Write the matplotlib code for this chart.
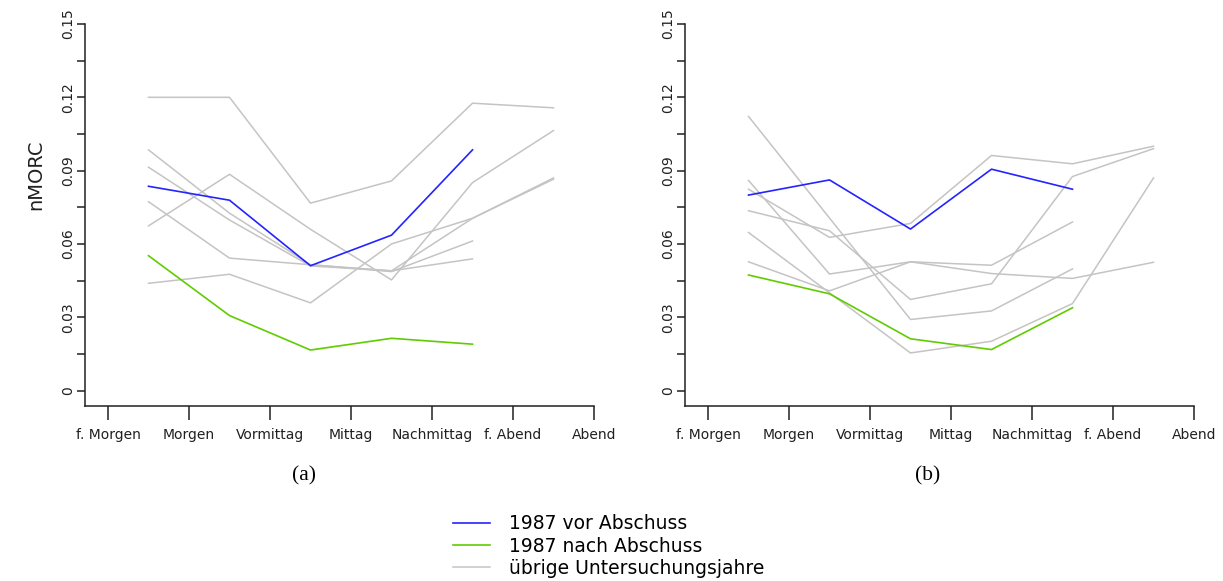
import matplotlib
matplotlib.use("Agg")
import matplotlib.pyplot as plt
from matplotlib.ticker import FixedLocator, FuncFormatter

plt.rcParams['font.family'] = ['DejaVu Sans']

# ---- categories / tick labels ----
tick_labels = ["f. Morgen", "Morgen", "Vormittag", "Mittag", "Nachmittag", "f. Abend", "Abend"]

# ---- panel (a) ----
a_blue = [0.0836, 0.0779, 0.0511, 0.0636, 0.0985]
a_green = [0.0552, 0.0307, 0.0166, 0.0214, 0.0190]
a_gray_1 = [0.1200, 0.1200, 0.0767, 0.0858, 0.1176, 0.1157]
a_gray_2 = [0.0674, 0.0885, 0.0660, 0.0453, 0.0851, 0.1064]
a_gray_3 = [0.0773, 0.0542, 0.0515, 0.0490, 0.0539]
a_gray_4 = [0.0439, 0.0476, 0.0359, 0.0600, 0.0705, 0.0870]
a_gray_5 = [0.0985, 0.0726, 0.0515, 0.0487, 0.0612]
a_gray_6 = [0.0914, 0.0698, 0.0510, 0.0490, 0.0705, 0.0865]

# ---- panel (b) ----
b_blue = [0.0800, 0.0862, 0.0661, 0.0906, 0.0824]
b_green = [0.0473, 0.0396, 0.0212, 0.0168, 0.0339]
b_gray_1 = [0.1122, 0.0706, 0.0291, 0.0326, 0.0498]
b_gray_2 = [0.0824, 0.0627, 0.0684, 0.0962, 0.0928, 0.1000]
b_gray_3 = [0.0860, 0.0477, 0.0527, 0.0513, 0.0690]
b_gray_4 = [0.0527, 0.0408, 0.0527, 0.0479, 0.0459, 0.0525]
b_gray_5 = [0.0736, 0.0654, 0.0373, 0.0437, 0.0876, 0.0990]
b_gray_6 = [0.0647, 0.0400, 0.0154, 0.0202, 0.0356, 0.0870]

legend_labels = ["1987 vor Abschuss", "1987 nach Abschuss", "übrige Untersuchungsjahre"]
panel_labels = ["(a)", "(b)"]
ylabel = "nMORC"

C_BLUE = "#2424ff"
C_GREEN = "#60cc00"
C_GRAY = "#c4c4c4"

W, H = 1223, 581
fig = plt.figure(figsize=(W / 100, H / 100), dpi=100)


def make_axes(left_px):
    ax = fig.add_axes([left_px / W, 1 - 406 / H, 509 / W, (406 - 24) / H])
    return ax


def style(ax, show_ylabel):
    ax.set_xlim(-0.284, 6.0)
    ax.set_ylim(-0.0063, 0.15)
    ax.spines['top'].set_visible(False)
    ax.spines['right'].set_visible(False)
    for s in ('left', 'bottom'):
        ax.spines[s].set_linewidth(1.1)
        ax.spines[s].set_color('#202020')
    ax.set_xticks(range(len(tick_labels)))
    ax.set_xticklabels(tick_labels, fontsize=10, color='#202020')
    yt = [i * 0.015 for i in range(11)]
    ax.yaxis.set_major_locator(FixedLocator(yt))

    def fmt(v, pos):
        k = round(v / 0.015)
        if k % 2:
            return ""
        s = f"{v:.2f}".rstrip('0').rstrip('.')
        return s if s else "0"
    ax.yaxis.set_major_formatter(FuncFormatter(fmt))
    ax.tick_params(axis='x', length=10, width=1.1, pad=6, color='#202020')
    ax.tick_params(axis='y', length=6, width=1.1, pad=1, color='#202020',
                   labelsize=10, labelcolor='#202020')
    for lab in ax.get_yticklabels():
        lab.set_rotation(90)
        lab.set_va('center')
    if show_ylabel:
        ax.set_ylabel(ylabel, fontsize=14, color='#202020')
        ax.yaxis.set_label_coords(-0.079, 0.605)


def draw(ax, grays, blue, green):
    for g in grays:
        x = [i + 0.5 for i in range(len(g))]
        h, = ax.plot(x, g, color=C_GRAY, lw=1.1)
    gray_h = h
    xb = [i + 0.5 for i in range(len(blue))]
    hb, = ax.plot(xb, blue, color=C_BLUE, lw=1.2)
    xg = [i + 0.5 for i in range(len(green))]
    hg, = ax.plot(xg, green, color=C_GREEN, lw=1.2)
    return [hb, hg, gray_h]


ax_a = make_axes(85)
handles = draw(ax_a, [a_gray_1, a_gray_2, a_gray_3, a_gray_4, a_gray_5, a_gray_6], a_blue, a_green)
style(ax_a, True)

ax_b = make_axes(685)
draw(ax_b, [b_gray_1, b_gray_2, b_gray_3, b_gray_4, b_gray_5, b_gray_6], b_blue, b_green)
style(ax_b, False)

fig.text(304 / W, 1 - 476 / H, panel_labels[0], family='Liberation Serif', fontsize=15.5,
         ha='center', va='center')
fig.text(928 / W, 1 - 476 / H, panel_labels[1], family='Liberation Serif', fontsize=15.5,
         ha='center', va='center')

leg = fig.legend(handles, legend_labels, loc='center left',
                 bbox_to_anchor=(453 / W, 1 - 546 / H), frameon=False,
                 fontsize=13.5, handlelength=1.95, handletextpad=1.05,
                 labelspacing=0.18, borderaxespad=0, borderpad=0)

fig.savefig("out.png", dpi=100)
